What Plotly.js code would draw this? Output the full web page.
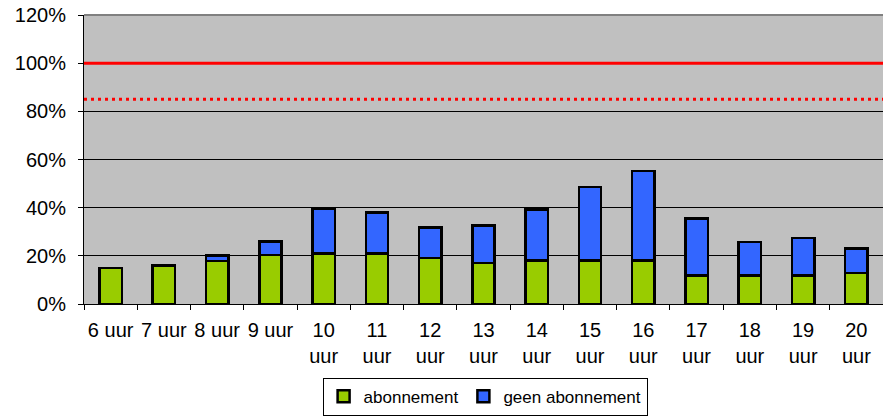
<!DOCTYPE html>
<html>
<head>
<meta charset="utf-8">
<script src="https://cdn.plot.ly/plotly-3.0.1.min.js"></script>
<style>html,body{margin:0;padding:0;background:#fff;}#chart{width:883px;height:418px;}</style>
</head>
<body>
<div id="chart"></div>
<script>
const categories = ["6 uur","7 uur","8 uur","9 uur","10<br>uur","11<br>uur","12<br>uur","13<br>uur","14<br>uur","15<br>uur","16<br>uur","17<br>uur","18<br>uur","19<br>uur","20<br>uur"];
const abonnement = [0.15,0.16,0.178,0.203,0.21,0.21,0.19,0.17,0.181,0.181,0.181,0.118,0.118,0.118,0.129];
const totaal = [0.15,0.16,0.202,0.259,0.397,0.38,0.318,0.325,0.393,0.485,0.552,0.356,0.257,0.274,0.231];
const geenAbonnement = totaal.map((t,i)=>+(t-abonnement[i]).toFixed(3));
const capaciteit = [1.0];
const grens = [0.85];

const traces = [
  {type:'bar', name:'abonnement', x:categories, y:abonnement,
   marker:{color:'#99CC00', line:{color:'#000', width:2.5}}},
  {type:'bar', name:'geen abonnement', x:categories, y:geenAbonnement,
   marker:{color:'#3366FF', line:{color:'#000', width:2.5}}}
];

const layout = {
  width:883, height:418,
  margin:{l:84, r:0, t:15, b:114},
  barmode:'stack', bargap:0.58,
  paper_bgcolor:'#fff', plot_bgcolor:'#C0C0C0',
  font:{family:'Arial, "Liberation Sans", sans-serif', color:'#000', size:20},
  showlegend:true,
  legend:{orientation:'h', x:0.502, xanchor:'center', y:-0.255, yanchor:'top',
    bordercolor:'#000', borderwidth:1, font:{size:17}, bgcolor:'#fff',
    itemwidth:30, traceorder:'normal'},
  xaxis:{type:'category', showline:true, linecolor:'#000', linewidth:1,
    ticks:'outside', tickson:'boundaries', ticklen:5, tickcolor:'#000',
    showgrid:false, tickangle:0, tickfont:{size:20}, ticklabelstandoff:8},
  yaxis:{range:[0,1.2], dtick:0.2, tickformat:'.0%', showline:true, linecolor:'#000', linewidth:1,
    ticks:'outside', ticklen:5, tickcolor:'#000', gridcolor:'#000', gridwidth:1,
    tickfont:{size:20}, zeroline:false, ticklabelstandoff:8},
  shapes:[
    {type:'line', xref:'paper', x0:0, x1:1, yref:'paper', y0:1, y1:1, line:{color:'#808080', width:2}},
    {type:'line', xref:'paper', x0:0, x1:1, yref:'y', y0:capaciteit[0], y1:capaciteit[0], line:{color:'#FF0000', width:3}},
    {type:'line', xref:'paper', x0:0, x1:1, yref:'y', y0:grens[0], y1:grens[0], line:{color:'#FF0000', width:3, dash:'3px,4px'}}
  ]
};

Plotly.newPlot('chart', traces, layout, {displayModeBar:false, staticPlot:true});
</script>
</body>
</html>
